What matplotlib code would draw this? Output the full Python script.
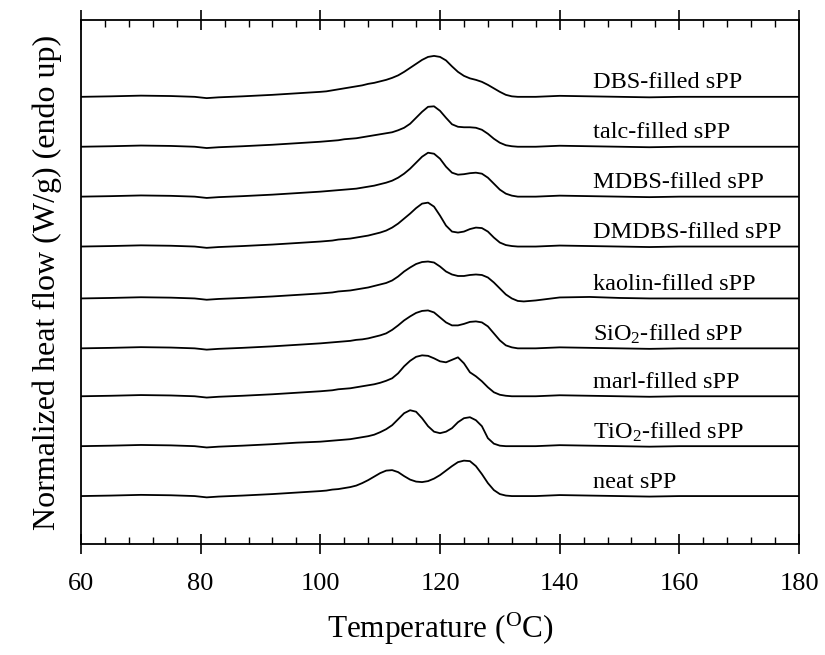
import matplotlib.pyplot as plt
from matplotlib.ticker import MultipleLocator

plt.rcParams['font.family'] = ['Liberation Serif', 'DejaVu Serif']
plt.rcParams['mathtext.fontset'] = 'custom'
plt.rcParams['mathtext.rm'] = 'Liberation Serif'
plt.rcParams['mathtext.it'] = 'Liberation Serif:italic'

# temperature points (deg C)
t_low = [60, 65, 70, 75, 79, 81, 83, 87, 92, 96]
t_peak = list(range(100, 135))
t_high = [136, 140, 145, 150, 155, 160, 170, 180]

# common low-temperature baseline (arbitrary units, endo up)
h_low = [0, 0.5, 1.2, 0.8, 0, -1.3, -0.5, 0.5, 2, 3.5]

dbs = [5, 5.5, 6.5, 7.5, 8.5, 9.5, 10.5, 11.5, 13, 14, 15.5, 17, 19, 21.5, 25, 29, 33, 37,
       40, 41, 40, 36.5, 30.5, 25, 21, 18.5, 17, 15, 12, 8.5, 5, 2, 0.5, 0, 0]
talc = [5, 5.5, 6, 6.5, 7.5, 8, 8.5, 9.5, 10.5, 11.5, 12.5, 13.5, 14.5, 16.5, 19, 23, 29, 35,
        40, 40.5, 36, 29, 22.5, 20, 19.5, 19.5, 19, 17, 13, 8, 4, 1.5, 0.5, 0, 0]
mdbs = [5, 5.5, 6, 6.5, 7, 7.5, 8, 9, 10, 11, 12.5, 14, 16, 19, 23, 28, 34, 40,
        44, 43, 38, 30, 24, 22, 22.5, 23.5, 24, 23, 19, 13, 7, 3, 1, 0, 0]
dmdbs = [5, 5.5, 6, 7, 7.5, 8, 9, 10, 11, 12.5, 14, 16, 19, 23, 28, 33, 38.5, 43,
         44, 40, 31, 21, 15, 14, 15, 17.5, 19, 18.5, 15, 9, 4, 1.5, 0.5, 0, 0]
kaolin = [5, 5.5, 6, 7, 7.5, 8, 9, 10, 11, 12.5, 14, 15.5, 18, 22, 27, 31, 34.5, 36.5,
          37, 36, 32, 27, 24, 22.5, 22.5, 23.5, 24, 23.5, 21, 16, 10, 4, 0, -2.5, -3]
sio2 = [5, 5.5, 6, 6.5, 7, 7.5, 8.5, 9, 10, 11.5, 13, 15, 18.5, 23, 28, 32, 35.5, 37.5,
        38, 36, 31, 26, 23, 23, 24.5, 26.5, 27, 26, 22, 15, 8, 3, 1, 0, 0]
marl = [5, 5.5, 6, 7, 7.5, 8, 9, 10, 11, 12, 13.5, 15.5, 18, 23, 30, 35.5, 39.5, 41,
        40.5, 38, 35, 34, 36.5, 39, 33, 24, 20, 15, 9, 4, 1.5, 0.5, 0, 0, 0]
tio2 = [4.5, 5, 5.5, 6, 6.5, 7, 8, 9, 10, 11.5, 14, 17, 21, 27, 33, 36, 34.5, 28,
        20, 14.5, 13, 14.5, 18, 24, 28, 29, 26, 20, 8, 2.5, 0.5, 0, 0, 0, 0]
neat = [5, 5.5, 6.5, 7, 8, 9, 10.5, 13, 16, 19.5, 23, 25.5, 26, 24, 20, 16.5, 14.5, 14,
        15, 17.5, 21, 25.5, 30, 34, 35.5, 35, 30, 22, 13, 6, 2, 0.5, 0, 0, 0]

high_flat = [0, 1, 0.5, 0, -0.5, 0, 0, 0]
high_kaolin = [-2, 1, 1.5, 0.5, 0, 0, 0, 0]

samples = ['DBS-filled sPP', 'talc-filled sPP', 'MDBS-filled sPP', 'DMDBS-filled sPP',
           'kaolin-filled sPP', 'SiO$_2$-filled sPP', 'marl-filled sPP',
           'TiO$_2$-filled sPP', 'neat sPP']
peaks = [dbs, talc, mdbs, dmdbs, kaolin, sio2, marl, tio2, neat]
highs = [high_flat, high_flat, high_flat, high_flat, high_kaolin,
         high_flat, high_flat, high_flat, high_flat]
offsets = [448, 398, 348, 298, 246, 196, 148, 98, 48]

fig = plt.figure(figsize=(8.25, 6.55), dpi=100)
ax = fig.add_axes([0.0982, 0.1695, 0.8703, 0.8])

t_all = t_low + t_peak + t_high
for name, pk, hi, off in zip(samples, peaks, highs, offsets):
    h = h_low + pk + hi
    ax.plot(t_all, [v + off for v in h], color='black', lw=1.3)
    ax.text(145.5, off + 14, name, fontsize=17.5, va='center', ha='left')

ax.set_xlim(60, 180)
ax.set_ylim(0, 525)
ax.xaxis.set_major_locator(MultipleLocator(20))
ax.xaxis.set_minor_locator(MultipleLocator(4))
ax.tick_params(axis='x', which='major', direction='inout', length=14, width=1.2,
               top=True, labelsize=19, pad=14)
ax.tick_params(axis='x', which='minor', direction='in', length=5, width=1.0, top=True)
ax.set_yticks([])
for s in ax.spines.values():
    s.set_linewidth(1.3)

ax.set_xlabel('Temperature ($^{\\mathregular{O}}$C)', fontsize=22.5, labelpad=11)
ax.set_ylabel('Normalized heat flow (W/g) (endo up)', fontsize=23, labelpad=14)

fig.savefig('out.png', dpi=100)
